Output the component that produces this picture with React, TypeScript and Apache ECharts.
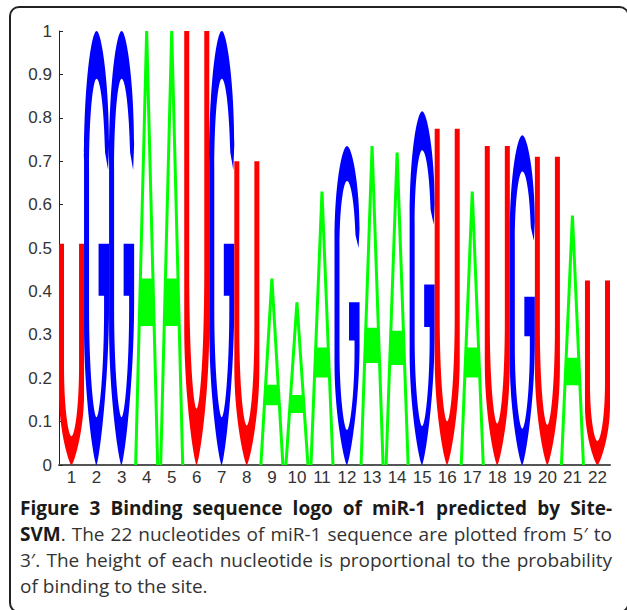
import React, { useEffect, useRef } from "react";
import * as echarts from "echarts";

// Data
const positions = ["1","2","3","4","5","6","7","8","9","10","11","12","13","14","15","16","17","18","19","20","21","22"];
const nucleotides = ["U","G","G","A","A","U","G","U","A","A","A","G","A","A","G","U","A","U","G","U","A","U"];
const probabilities = [0.51, 1.0, 1.0, 1.0, 1.0, 1.0, 1.0, 0.70, 0.43, 0.375, 0.63, 0.735, 0.735, 0.72, 0.815, 0.775, 0.63, 0.735, 0.76, 0.71, 0.575, 0.425];
const yTicks = [0, 0.1, 0.2, 0.3, 0.4, 0.5, 0.6, 0.7, 0.8, 0.9, 1];

const letterColors: Record<string, string> = { U: "#ff0000", G: "#0000ff", A: "#00ff00" };

// Glyph outlines in a 100 x 100 box (y downward)
const glyphPaths: Record<string, string> = {
  U: "M0 0 L20 0 L20 55 C20 75 38 87 50 87 C62 87 80 75 80 55 L80 0 L100 0 L100 68 C100 85 58 100 50 100 C42 100 0 85 0 68 Z",
  G: "M50 0 C30 0 0 12 0 30 L0 68 C0 85 42 100 50 100 C58 100 100 82 100 62 L100 49 L58 49 L58 61 L80 61 L80 64 C80 78 62 89 50 89 C38 89 20 78 20 64 L20 32 C20 20 35 11 50 11 C65 11 80 18 84 28 L96 32 L100 26 C100 12 70 0 50 0 Z",
  A: "M44 0 L0 100 L12 100 L50 13.6 L88 100 L100 100 L56 0 Z M19 57 L14 68 L86 68 L81 57 Z",
};

// Caption lines: each segment [text, bold]
const captionLines: { segs: [string, boolean][]; justify: boolean }[] = [
  { segs: [["Figure 3 Binding sequence logo of miR-1 predicted by Site-", true]], justify: true },
  { segs: [["SVM", true], [". The 22 nucleotides of miR-1 sequence are plotted from 5\u2032 to", false]], justify: true },
  { segs: [["3\u2032. The height of each nucleotide is proportional to the probability", false]], justify: true },
  { segs: [["of binding to the site.", false]], justify: false },
];

const CAP_FAMILY = "'Open Sans', sans-serif";
const CAP_SIZE = 19;
const CAP_LEFT = 20;
const CAP_RIGHT = 612;
const CAP_Y0 = 508;
const CAP_LH = 26;

function buildCaption(): any[] {
  const canvas = document.createElement("canvas");
  const ctx = canvas.getContext("2d") as CanvasRenderingContext2D;
  const fontOf = (b: boolean) => `${b ? "bold " : ""}${CAP_SIZE}px ${CAP_FAMILY}`;
  const measure = (t: string, b: boolean) => {
    ctx.font = fontOf(b);
    return ctx.measureText(t).width;
  };
  const out: any[] = [];
  captionLines.forEach((line, li) => {
    // split into words, each word a list of segments
    const words: [string, boolean][][] = [];
    let cur: [string, boolean][] = [];
    line.segs.forEach(([text, bold]) => {
      const parts = text.split(" ");
      parts.forEach((p, pi) => {
        if (pi > 0) {
          if (cur.length) words.push(cur);
          cur = [];
        }
        if (p.length) cur.push([p, bold]);
      });
    });
    if (cur.length) words.push(cur);
    const widths = words.map((w) => w.reduce((s, [t, b]) => s + measure(t, b), 0));
    const total = widths.reduce((a, b) => a + b, 0);
    const spaceW = measure(" ", false);
    const gap = line.justify && words.length > 1 ? (CAP_RIGHT - CAP_LEFT - total) / (words.length - 1) : spaceW;
    let x = CAP_LEFT;
    const y = CAP_Y0 + li * CAP_LH;
    words.forEach((w, wi) => {
      let xx = x;
      w.forEach(([t, b]) => {
        out.push({
          type: "text",
          x: xx,
          y,
          silent: true,
          style: { text: t, font: fontOf(b), fill: b ? "#1a1a1a" : "#333333", verticalAlign: "middle", align: "left" },
        });
        xx += measure(t, b);
      });
      x += widths[wi] + gap;
    });
  });
  return out;
}

export default function App() {
  const ref = useRef<HTMLDivElement>(null);
  useEffect(() => {
    if (!ref.current) return;
    const chart = echarts.init(ref.current, null, { renderer: "svg" });
    const data = probabilities.map((p, i) => [i, p, nucleotides[i]]);
    const axisFont = "'Liberation Sans Narrow', 'Liberation Sans', Arial, sans-serif";
    chart.setOption({
      animation: false,
      backgroundColor: "#ffffff",
      grid: { left: 59, right: 17, top: 31, bottom: 145 },
      xAxis: {
        type: "category",
        data: positions,
        boundaryGap: true,
        axisLine: { show: true, lineStyle: { color: "#555555", width: 2 } },
        axisTick: { show: false },
        axisLabel: { color: "#333333", fontSize: 17, fontFamily: axisFont, margin: 4, interval: 0 },
        splitLine: { show: false },
      },
      yAxis: {
        type: "value",
        min: 0,
        max: 1,
        interval: 0.1,
        axisLine: { show: true, lineStyle: { color: "#222222", width: 1 } },
        axisTick: { show: true, inside: true, length: 4, lineStyle: { color: "#222222" } },
        axisLabel: {
          color: "#333333",
          fontSize: 17,
          fontFamily: axisFont,
          margin: 7,
          formatter: (v: number) => {
            const t = yTicks.find((k) => Math.abs(k - v) < 1e-6);
            return t === undefined ? "" : String(+t.toFixed(1));
          },
        },
        splitLine: { show: false },
      },
      series: [
        {
          type: "custom",
          data,
          clip: false,
          renderItem: (params: any, api: any) => {
            const idx = api.value(0);
            const v = api.value(1);
            const letter = nucleotides[idx];
            const base = api.coord([idx, 0]);
            const top = api.coord([idx, v]);
            const bw = api.size([1, 0])[0];
            return {
              type: "path",
              shape: {
                pathData: glyphPaths[letter],
                x: base[0] - bw / 2,
                y: top[1],
                width: bw,
                height: base[1] - top[1],
                layout: "cover",
              },
              style: { fill: letterColors[letter], stroke: "none" },
            };
          },
        },
      ],
      graphic: [
        {
          type: "rect",
          silent: true,
          shape: { x: 10, y: 7, width: 618.5, height: 605, r: 9 },
          style: { fill: "none", stroke: "#222222", lineWidth: 2 },
        },
        ...buildCaption(),
      ],
    });
    return () => chart.dispose();
  }, []);
  return (
    <div
      ref={ref}
      style={{ position: "absolute", left: 0, top: 0, width: 627, height: 610, background: "#fff" }}
    />
  );
}
